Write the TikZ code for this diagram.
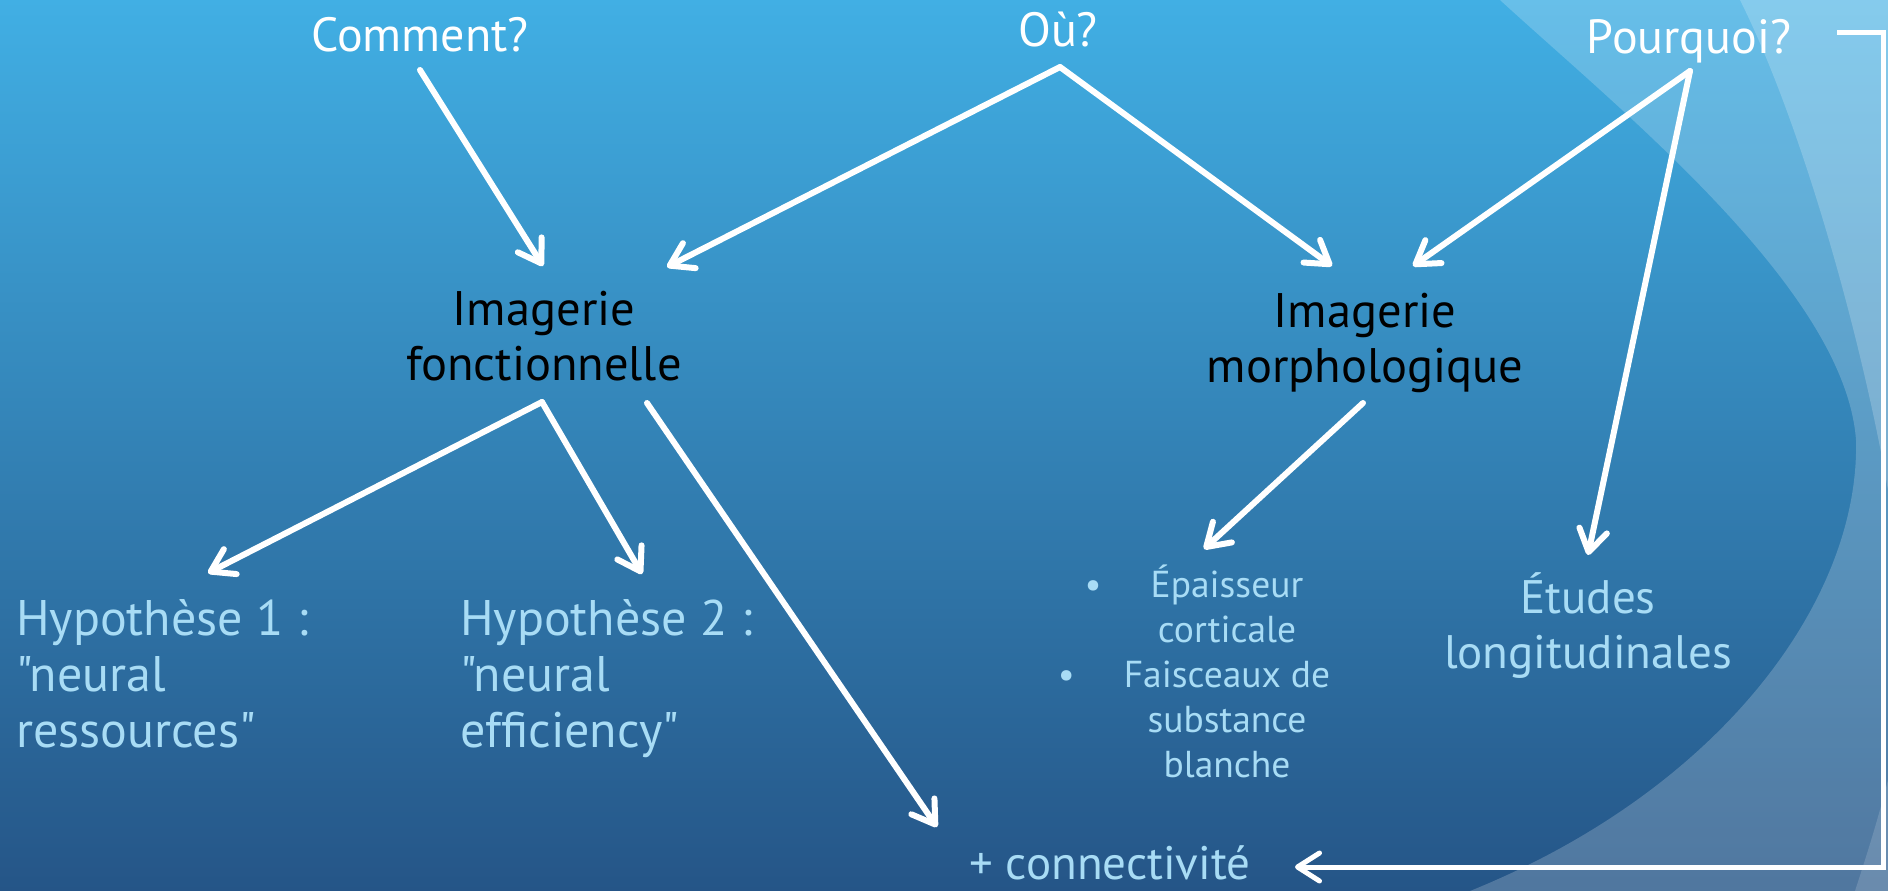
\documentclass[tikz,border=0pt]{standalone}
\usepackage{fontspec}
\setmainfont{PT Sans}[Ligatures=TeXOff]
\usetikzlibrary{arrows.meta}
\definecolor{bgtop}{RGB}{65,175,228}
\definecolor{bgbot}{RGB}{37,85,135}
\definecolor{paleblue}{RGB}{168,220,245}
\begin{document}
\begin{tikzpicture}[x=1pt,y=-1pt,
  arr/.style={draw=white, line width=6pt, line cap=round,
    -{Straight Barb[length=22pt,width=28pt,round]}},
  elbow/.style={draw=white, line width=5pt,
    -{Straight Barb[length=22pt,width=28pt,round]}},
  question/.style={text=white, font=\fontsize{48pt}{55pt}\selectfont,
    inner sep=0pt, anchor=base},
  heading/.style={text=black, font=\fontsize{48.5pt}{55pt}\selectfont,
    align=center, inner sep=0pt, anchor=base},
  hypo/.style={text=paleblue, font=\fontsize{50pt}{56pt}\selectfont,
    align=left, inner sep=0pt, anchor=base west},
  result/.style={text=paleblue, font=\fontsize{47pt}{55pt}\selectfont,
    align=center, inner sep=0pt, anchor=base},
  listtext/.style={text=paleblue, font=\fontsize{37.5pt}{45pt}\selectfont,
    align=center, inner sep=0pt, anchor=base}]

% background
\useasboundingbox (0,0) rectangle (1888,891);
\shade[top color=bgtop, bottom color=bgbot] (0,0) rectangle (1888,891);
\fill[white, opacity=0.2] (1500,0) .. controls (1620,110) and (1845,290) .. (1856,440)
  .. controls (1860,600) and (1720,790) .. (1470,891) -- (1888,891) -- (1888,0) -- cycle;
\fill[white, opacity=0.2] (1740,0) .. controls (1800,120) and (1860,330) .. (1888,490)
  -- (1888,0) -- cycle;
\fill[white, opacity=0.15] (1888,780) .. controls (1875,830) and (1865,860) .. (1855,891)
  -- (1888,891) -- cycle;

% questions
\node[question] (comment) at (420,52) {Comment?};
\node[question] (ou) at (1058,47) {Où?};
\node[question] (pourquoi) at (1689,54) {Pourquoi?};

% imaging types (placed by the baseline of their last line)
\node[heading] (fonc) at (544,380) {Imagerie\\fonctionnelle};
\node[heading] (morph) at (1365,382) {Imagerie\\morphologique};

% outcomes
\node[hypo] (hyp1) at (16,747) {Hypothèse 1 :\\"neural\\ressources"};
\node[hypo] (hyp2) at (460,747) {Hypothèse 2 :\\"neural\\efficiency"};
\node[listtext] (bul) at (1227,777)
  {\llap{•\hspace{49pt}}Épaisseur\\corticale\\\llap{•\hspace{49pt}}Faisceaux de\\substance\\blanche};
\node[result] (etudes) at (1588,668) {Études\\longitudinales};
\node[result] (connect) at (1110,879) {+ connectivité};

% connectors
\draw[arr] ([shift={(0,18)}]comment.base) -- ([shift={(-1,-114)}]fonc.base);
\draw[arr] ([shift={(2,20)}]ou.base) -- ([shift={(123,-113)}]fonc.base);
\draw[arr] ([shift={(2,20)}]ou.base) -- ([shift={(-33,-116)}]morph.base);
\draw[arr] ([shift={(1,17)}]pourquoi.base) -- ([shift={(48,-116)}]morph.base);
\draw[arr] ([shift={(1,17)}]pourquoi.base) -- ([shift={(0,-113)}]etudes.base);
\draw[arr] ([shift={(-2,22)}]fonc.base) -- ([shift={(192,-174)}]hyp1.base west);
\draw[arr] ([shift={(-2,22)}]fonc.base) -- ([shift={(182,-173)}]hyp2.base west);
\draw[arr] ([shift={(103,23)}]fonc.base) -- ([shift={(-173,-52)}]connect.base);
\draw[arr] ([shift={(-2,21)}]morph.base) -- ([shift={(-23,-228)}]bul.base);
\draw[elbow] ([shift={(148,-21)}]pourquoi.base) -- ++(46,0)
  |- ([shift={(185,-12)}]connect.base);
\end{tikzpicture}
\end{document}
